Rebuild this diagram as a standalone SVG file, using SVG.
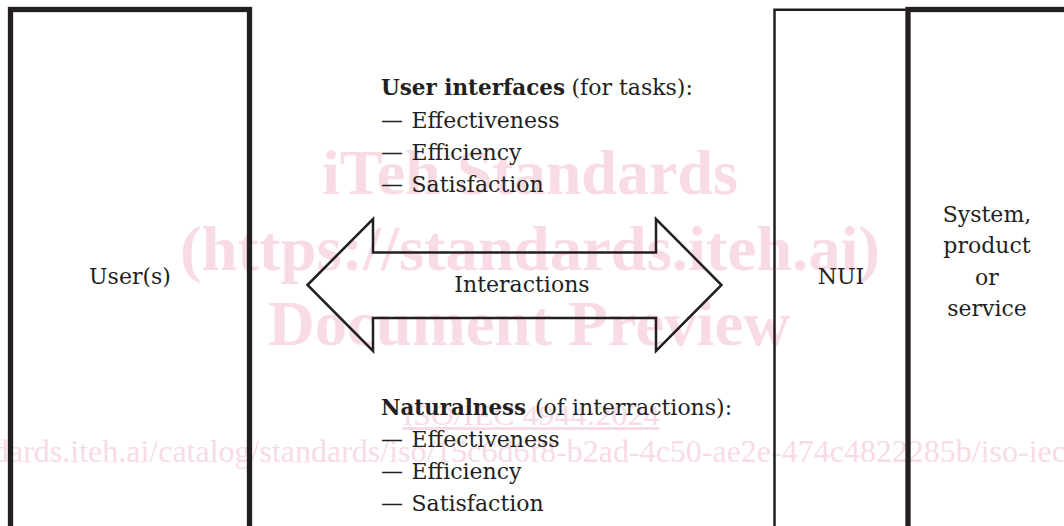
<svg xmlns="http://www.w3.org/2000/svg" width="1064" height="526" viewBox="0 0 1064 526">
  <style>
    .t { font-family: "DejaVu Serif", "Liberation Serif", serif; font-size: 22px; fill: #231f20; }
    .b { font-weight: bold; }
    .m { text-anchor: middle; }
    .wm { font-family: "Liberation Serif", "Times New Roman", serif; fill: #f9dbe3; }
    .wmb { font-weight: bold; font-size: 63px; text-anchor: middle; }
    .thick { fill: none; stroke: #231f20; stroke-width: 5.3; }
    .thin { fill: none; stroke: #231f20; stroke-width: 2.5; }
  </style>
  <rect width="1064" height="526" fill="#ffffff"/>

  <g id="watermark">
    <text class="wm wmb" x="530" y="194" textLength="416" lengthAdjust="spacingAndGlyphs">iTeh Standards</text>
    <text class="wm wmb" x="530" y="270" textLength="700" lengthAdjust="spacingAndGlyphs">(https://standards.iteh.ai)</text>
    <text class="wm wmb" x="529" y="345" textLength="522" lengthAdjust="spacingAndGlyphs">Document Preview</text>
    <text class="wm" x="531" y="425" font-size="30" text-anchor="middle" text-decoration="underline" textLength="257" lengthAdjust="spacingAndGlyphs">ISO/IEC 4944:2024</text>
    <text class="wm" x="-7" y="462" font-size="31" textLength="1073" lengthAdjust="spacingAndGlyphs">dards.iteh.ai/catalog/standards/iso/15c6d6f8-b2ad-4c50-ae2e-474c4822285b/iso-iec</text>
  </g>

  <g id="node-users">
    <rect class="thick" x="10.5" y="9.5" width="239" height="560"/>
    <text class="t m" x="130" y="284">User(s)</text>
  </g>

  <g id="node-nui">
    <path class="thin" d="M774.5,560 V9.8 H908"/>
    <text class="t m" x="841" y="284">NUI</text>
  </g>

  <g id="node-system">
    <rect class="thick" x="908" y="9.5" width="220" height="560"/>
    <text class="t m" x="987" y="221.5">System,</text>
    <text class="t m" x="987" y="253">product</text>
    <text class="t m" x="987" y="284.5">or</text>
    <text class="t m" x="987" y="316">service</text>
  </g>

  <g id="connectors">
    <path id="interactions-arrow" class="thin" stroke-linejoin="miter" d="M307.5,285 L373,219 L373,252.5 L656,252.5 L656,219 L721.5,285 L656,351 L656,318 L373,318 L373,351 Z"/>
    <text class="t m" x="522" y="292">Interactions</text>
  </g>

  <g id="user-interfaces-criteria">
    <text class="t b" x="381" y="95" textLength="184" lengthAdjust="spacingAndGlyphs">User interfaces</text>
    <text class="t" x="571.5" y="95">(for tasks):</text>
    <text class="t" x="381" y="127.5">— <tspan dx="1.5">Effectiveness</tspan></text>
    <text class="t" x="381" y="159.5">— <tspan dx="1.5">Efficiency</tspan></text>
    <text class="t" x="381" y="191.5">— <tspan dx="1.5">Satisfaction</tspan></text>
  </g>

  <g id="naturalness-criteria">
    <text class="t b" x="381" y="414.5" textLength="145" lengthAdjust="spacingAndGlyphs">Naturalness</text>
    <text class="t" x="535" y="414.5">(of interractions):</text>
    <text class="t" x="381" y="446.5">— <tspan dx="1.5">Effectiveness</tspan></text>
    <text class="t" x="381" y="478.5">— <tspan dx="1.5">Efficiency</tspan></text>
    <text class="t" x="381" y="510.5">— <tspan dx="1.5">Satisfaction</tspan></text>
  </g>
</svg>
